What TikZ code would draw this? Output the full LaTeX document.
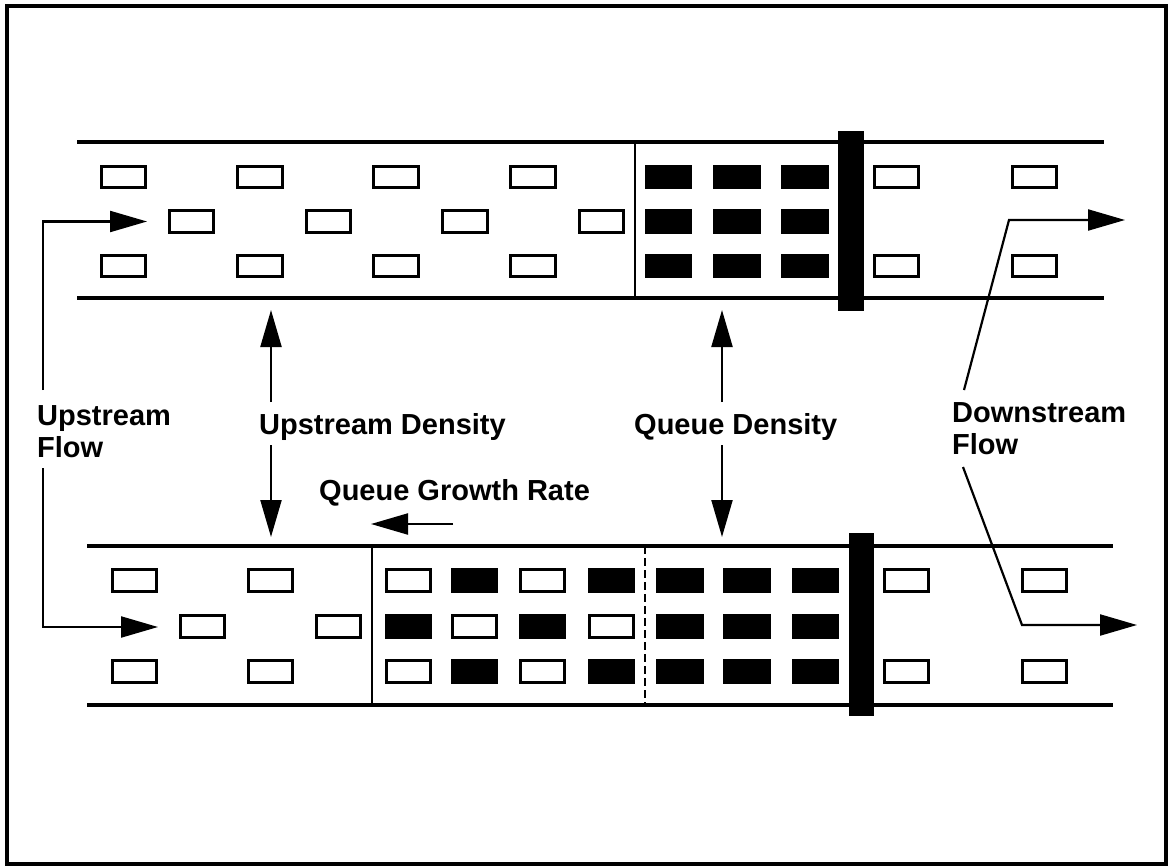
\documentclass[tikz,border=0pt]{standalone}
\usepackage{fontspec}
\setmainfont{Liberation Sans}
\usetikzlibrary{arrows.meta}
\begin{document}
\begin{tikzpicture}[x=1pt,y=-1pt,
  car/.style={draw=black, line width=2.8pt, minimum width=44.5pt, minimum height=21.5pt, inner sep=0pt, fill=white},
  bcar/.style={draw=black, fill=black, line width=2.8pt, minimum width=44.5pt, minimum height=21.5pt, inner sep=0pt},
  road/.style={line width=3.2pt},
  arr/.style={line width=2.2pt, -{Triangle[length=37pt,width=21pt]}},
  lbl/.style={font=\fontsize{29}{29}\selectfont\bfseries, inner sep=0pt, anchor=base west},
  lbl2/.style={font=\fontsize{29}{29}\selectfont\bfseries, inner sep=0pt, anchor=north west, align=left}
]
\useasboundingbox (0,0) rectangle (1170,867);
\draw[line width=3.5pt] (7,6) rectangle (1166,864);

% ---------- top road ----------
\draw[road] (77,142) -- (1104,142);
\draw[road] (77,298) -- (1104,298);
\draw[line width=2.8pt] (635,142) -- (635,298);
\fill (838,131) rectangle (864,311);

\foreach \x in {123.5,260,396,533} {
  \node[car] at (\x,177) {};
  \node[car] at (\x,266) {};
}
\foreach \x in {191.5,328.5,465,601.5} \node[car] at (\x,221.5) {};
\foreach \x in {668.5,737,805} \foreach \y in {177,221.5,266} \node[bcar] at (\x,\y) {};
\foreach \x in {896.5,1034.5} {
  \node[car] at (\x,177) {};
  \node[car] at (\x,266) {};
}

% ---------- bottom road ----------
\draw[road] (87,546) -- (1113,546);
\draw[road] (87,705) -- (1113,705);
\draw[line width=2.8pt] (372,546) -- (372,705);
\draw[line width=2.4pt, dash pattern=on 8pt off 4pt] (645,546) -- (645,705);
\fill (849,533) rectangle (874,716);

\foreach \x in {134.5,270.5} {
  \node[car] at (\x,580.5) {};
  \node[car] at (\x,671.5) {};
}
\foreach \x in {202.5,338.5} \node[car] at (\x,626.5) {};
% queue, before dashed line
\node[car]  at (408.5,580.5) {}; \node[bcar] at (474.5,580.5) {}; \node[car]  at (542.5,580.5) {}; \node[bcar] at (611.5,580.5) {};
\node[bcar] at (408.5,626.5) {}; \node[car]  at (474.5,626.5) {}; \node[bcar] at (542.5,626.5) {}; \node[car]  at (611.5,626.5) {};
\node[car]  at (408.5,671.5) {}; \node[bcar] at (474.5,671.5) {}; \node[car]  at (542.5,671.5) {}; \node[bcar] at (611.5,671.5) {};
\foreach \x in {680,747,815.5} \foreach \y in {580.5,626.5,671.5} \node[bcar] at (\x,\y) {};
\foreach \x in {906.5,1044.5} {
  \node[car] at (\x,580.5) {};
  \node[car] at (\x,671.5) {};
}

% ---------- labels ----------
\node[lbl2] (uf) at (37,405) {Upstream\\[3pt]Flow};
\node[lbl] (ud) at (259,434) {Upstream Density};
\node[lbl] (qd) at (634,434) {Queue Density};
\node[lbl] (qg) at (319,500) {Queue Growth Rate};
\node[lbl2] (df) at (952,402) {Downstream\\[3pt]Flow};

% ---------- connectors ----------
\coordinate (uf1) at (43,390);
\coordinate (uf2) at (43,221.5);
\coordinate (uft) at (147,221.5);
\coordinate (uf3) at (43,468);
\coordinate (uf4) at (43,627);
\coordinate (uft2) at (158,627);
\draw[arr] (uf1) -- (uf2) -- (uft);
\draw[arr] (uf3) -- (uf4) -- (uft2);

\coordinate (ud1) at (271,402);
\coordinate (udt) at (271,310);
\coordinate (ud2) at (271,445);
\coordinate (udb) at (271,537);
\draw[arr] (ud1) -- (udt);
\draw[arr] (ud2) -- (udb);

\coordinate (qd1) at (722,402);
\coordinate (qdt) at (722,310);
\coordinate (qd2) at (722,445);
\coordinate (qdb) at (722,537);
\draw[arr] (qd1) -- (qdt);
\draw[arr] (qd2) -- (qdb);

\coordinate (qg1) at (453,524);
\coordinate (qgt) at (371,524);
\draw[arr] (qg1) -- (qgt);

\coordinate (df1) at (964,390);
\coordinate (df2) at (1009,220);
\coordinate (dft) at (1125,220);
\coordinate (df3) at (963,467);
\coordinate (df4) at (1022,625);
\coordinate (dft2) at (1137,625);
\draw[arr] (df1) -- (df2) -- (dft);
\draw[arr] (df3) -- (df4) -- (dft2);
\end{tikzpicture}
\end{document}
